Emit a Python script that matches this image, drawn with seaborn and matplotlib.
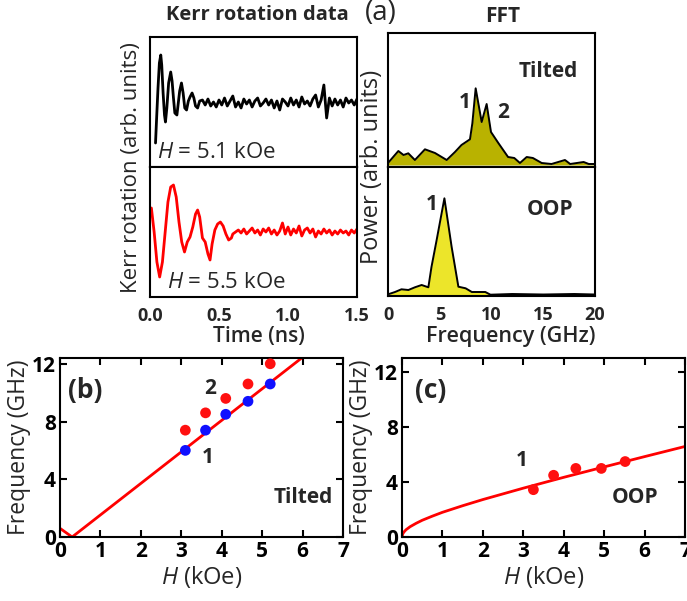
import numpy as np
import pandas as pd
import matplotlib
matplotlib.use("Agg")
import matplotlib.pyplot as plt
import seaborn as sns

# ---------------- data ----------------
# Kerr rotation, H = 5.1 kOe (tilted), arb. units
kerr_black_t = [0.040, 0.048, 0.058, 0.068, 0.078, 0.085, 0.095, 0.105, 0.112, 0.122,
                0.135, 0.150, 0.160, 0.170, 0.180, 0.195, 0.205, 0.215, 0.228, 0.240,
                0.252, 0.265, 0.278, 0.290, 0.305, 0.318, 0.330, 0.345, 0.360,
                0.38, 0.40, 0.42, 0.44, 0.46, 0.48, 0.50, 0.52, 0.54, 0.56,
                0.58, 0.60, 0.62, 0.64, 0.66, 0.68, 0.70, 0.72, 0.74, 0.76,
                0.78, 0.80, 0.82, 0.84, 0.86, 0.88, 0.90, 0.92, 0.94, 0.96,
                0.98, 1.00, 1.02, 1.04, 1.06, 1.08, 1.10, 1.12, 1.14, 1.16,
                1.18, 1.20, 1.22, 1.24, 1.26, 1.28, 1.30, 1.32, 1.34, 1.36,
                1.38, 1.40, 1.42, 1.44, 1.46, 1.48, 1.50]
kerr_black_v = [-40, -15, 15, 40, 48, 38, 10, -12, -19, -5,
                20, 31, 22, 5, -10, -12, 0, 12, 20, 10,
                -5, -7, 2, 6, 10, 5, -3, -5, 2,
                3, -2, 4, -3, 1, -4, 3, -2, 5, -3,
                2, 7, -4, 1, -5, 4, -1, 3, -4, 2,
                5, -3, 0, 4, -2, 3, -5, 2, -7, 4,
                1, -3, 5, -2, 3, -4, 6, -1, 2, -3,
                4, 8, -4, 3, 18, -15, 5, -3, 4, -2,
                3, -4, 5, 0, 3, -2, 4]

# Kerr rotation, H = 5.5 kOe (OOP), arb. units
kerr_red_t = [0.01, 0.03, 0.05, 0.07, 0.09, 0.11, 0.13, 0.15, 0.17, 0.19,
              0.21, 0.23, 0.25, 0.27, 0.29, 0.31, 0.33, 0.345, 0.36, 0.38,
              0.40, 0.42, 0.435, 0.45, 0.47, 0.49, 0.51, 0.53, 0.55, 0.57,
              0.59, 0.60,
              0.62, 0.64, 0.66, 0.68, 0.70, 0.72, 0.74, 0.76, 0.78, 0.80,
              0.82, 0.84, 0.86, 0.88, 0.90, 0.92, 0.94, 0.96, 0.98, 1.00,
              1.02, 1.04, 1.06, 1.08, 1.10, 1.12, 1.14, 1.16, 1.18, 1.20,
              1.22, 1.24, 1.26, 1.28, 1.30, 1.32, 1.34, 1.36, 1.38, 1.40,
              1.42, 1.44, 1.46, 1.48, 1.50]
kerr_red_v = [24, 0, -30, -45, -30, 0, 30, 45, 47, 35,
              10, -10, -20, -10, -5, 5, 18, 22, 15, -6,
              -10, -22, -28, -12, 2, 8, 10, 6, -2, -8,
              -6, -2,
              0, 2, -1, 3, -2, 1, 4, -1, 2, -3,
              3, 0, 4, -2, 2, -3, 1, 9, -2, 5,
              -3, 3, -1, 6, -4, 2, 4, -1, 3, -5,
              1, -2, 3, -1, 2, -3, 1, -2, 2, -1,
              1, -3, 2, -1, 3]

# FFT power spectra (arb. units)
fft_tilt_f = [0.0, 1.0, 1.5, 1.96, 2.6, 3.57, 4.54, 5.67, 6.47, 7.1, 7.92, 8.15, 8.47,
              9.05, 9.53, 9.95, 10.66, 11.6, 12.2, 12.75, 13.4, 14.0, 14.85, 15.8,
              17.1, 17.6, 18.9, 19.4, 20.0]
fft_tilt_p = [2, 14, 10, 11.7, 5, 15.7, 12, 5, 13, 20, 25.7, 41.7, 76.7,
              43, 61, 33, 22, 8, 7, 2, 8, 7, 2, 1,
              5, 1, 3, 1, 1]
fft_oop_f = [0.1, 0.68, 1.3, 1.97, 2.6, 3.25, 3.9, 4.2, 4.7, 5.45, 6.15, 6.8, 7.5,
             8.1, 9.4, 9.9, 12.0, 15.0, 18.0, 20.0]
fft_oop_p = [1, 3, 5.7, 5, 7.7, 10, 7.7, 28, 55, 96.7, 48, 8.3, 6.7,
             3, 3, 0.3, 1, 0.5, 1, 0.5]

# (b) tilted: measured modes and fit
tilt_H = [3.1, 3.6, 4.1, 4.65, 5.2]
tilt_mode2 = [7.4, 8.6, 9.6, 10.6, 12.0]
tilt_mode1 = [6.0, 7.4, 8.5, 9.4, 10.6]
tilt_fit_H = [0.0, 0.3, 6.0]
tilt_fit_f = [0.6, 0.0, 12.45]

# (c) OOP: measured mode and fit
oop_H = [3.25, 3.75, 4.3, 4.93, 5.52]
oop_f = [3.45, 4.5, 5.0, 5.0, 5.5]
oop_fit_H = [0.0, 0.02, 0.05, 0.1, 0.2, 0.35, 0.5, 0.75, 1.0, 1.5, 2.0, 3.0, 4.0, 5.0, 6.0, 7.0]
oop_fit_f = [0.0, 0.24, 0.37, 0.53, 0.75, 1.0, 1.22, 1.52, 1.8, 2.28, 2.73, 3.56, 4.35, 5.11, 5.86, 6.6]

time_ticks = [0.0, 0.5, 1.0, 1.5]
time_labels = ["0.0", "0.5", "1.0", "1.5"]
freq_ticks = [0, 5, 10, 15, 20]
H_ticks = [0, 1, 2, 3, 4, 5, 6, 7]
f_ticks = [0, 4, 8, 12]

# ---------------- style ----------------
sns.set_theme(style="ticks")
FONT = "Open Sans"
plt.rcParams["font.family"] = [FONT, "DejaVu Sans"]
plt.rcParams["mathtext.fontset"] = "custom"
plt.rcParams["mathtext.it"] = FONT + ":italic"
plt.rcParams["mathtext.rm"] = FONT
plt.rcParams["axes.linewidth"] = 1.5
plt.rcParams["axes.edgecolor"] = "black"

W, H = 687, 601
fig = plt.figure(figsize=(W / 100, H / 100), dpi=100)


def ax_px(x0, y0, x1, y1):
    return fig.add_axes([x0 / W, 1 - y1 / H, (x1 - x0) / W, (y1 - y0) / H])


def frame_only(ax):
    for s in ax.spines.values():
        s.set_visible(True)
        s.set_linewidth(1.5)
        s.set_color("black")
    ax.set_xlabel("")
    ax.set_ylabel("")


# ---- Kerr panels ----
ax_k1 = ax_px(150, 37, 357, 167)
ax_k2 = ax_px(150, 167, 357, 297)
df_k1 = pd.DataFrame({"t": kerr_black_t, "v": kerr_black_v})
df_k2 = pd.DataFrame({"t": kerr_red_t, "v": kerr_red_v})
sns.lineplot(data=df_k1, x="t", y="v", ax=ax_k1, color="black", lw=2.0,
             estimator=None, sort=False)
sns.lineplot(data=df_k2, x="t", y="v", ax=ax_k2, color="#ff0000", lw=2.0,
             estimator=None, sort=False)
ax_k1.set_xlim(0, 1.5)
ax_k1.set_ylim(-64, 66)
ax_k2.set_xlim(0, 1.5)
ax_k2.set_ylim(-65, 65)
for ax in (ax_k1, ax_k2):
    frame_only(ax)
    ax.set_yticks([])
    ax.tick_params(length=0)
ax_k1.set_xticks([])
ax_k2.set_xticks(time_ticks)
ax_k2.set_xticklabels(time_labels, fontsize=13, fontweight="bold")
ax_k2.tick_params(axis="x", pad=7)
ax_k1.text(0.035, 0.03, "$H$ = 5.1 kOe", transform=ax_k1.transAxes,
           fontsize=16, ha="left", va="bottom")
ax_k2.text(0.08, 0.03, "$H$ = 5.5 kOe", transform=ax_k2.transAxes,
           fontsize=16, ha="left", va="bottom")

# ---- FFT panels ----
ax_f1 = ax_px(388, 33, 595, 167)
ax_f2 = ax_px(388, 167, 595, 296)
ax_f1.fill_between(fft_tilt_f, fft_tilt_p, 0, color="#b9b200", lw=0)
ax_f2.fill_between(fft_oop_f, fft_oop_p, 0, color="#ece52a", lw=0)
sns.lineplot(x=fft_tilt_f, y=fft_tilt_p, ax=ax_f1, color="black", lw=1.4,
             estimator=None, sort=False)
sns.lineplot(x=fft_oop_f, y=fft_oop_p, ax=ax_f2, color="black", lw=1.4,
             estimator=None, sort=False)
ax_f1.set_xlim(0, 20)
ax_f1.set_ylim(-2, 132)
ax_f2.set_xlim(0, 20)
ax_f2.set_ylim(-1, 128)
for ax in (ax_f1, ax_f2):
    frame_only(ax)
    ax.set_yticks([])
    ax.tick_params(length=0)
ax_f1.set_xticks([])
ax_f2.set_xticks(freq_ticks)
ax_f2.set_xticklabels([str(v) for v in freq_ticks], fontsize=13, fontweight="bold")
ax_f2.tick_params(axis="x", pad=7)
ax_f1.text(0.918, 0.709, "Tilted", transform=ax_f1.transAxes, fontsize=15,
           fontweight="bold", ha="right", va="center")
ax_f1.text(7.44, 62, "1", fontsize=15, fontweight="bold", ha="center", va="center")
ax_f1.text(11.1, 52, "2", fontsize=15, fontweight="bold", ha="center", va="center")
ax_f2.text(0.894, 0.667, "OOP", transform=ax_f2.transAxes, fontsize=15,
           fontweight="bold", ha="right", va="center")
ax_f2.text(4.25, 90, "1", fontsize=15, fontweight="bold", ha="center", va="center")

# ---- (b) tilted dispersion ----
ax_b = ax_px(60, 358, 343, 537)
sns.lineplot(x=tilt_fit_H, y=tilt_fit_f, ax=ax_b, color="#ff0000", lw=2.0,
             estimator=None, sort=False)
sns.scatterplot(x=tilt_H, y=tilt_mode1, ax=ax_b, color="#1010ff", s=60,
                edgecolor="none", zorder=3)
sns.scatterplot(x=tilt_H, y=tilt_mode2, ax=ax_b, color="#ff1010", s=60,
                edgecolor="none", zorder=3)
ax_b.set_xlim(0, 7)
ax_b.set_ylim(0, 12.4)

# ---- (c) OOP dispersion ----
ax_c = ax_px(402, 358, 685, 537)
sns.lineplot(x=oop_fit_H, y=oop_fit_f, ax=ax_c, color="#ff0000", lw=2.0,
             estimator=None, sort=False)
sns.scatterplot(x=oop_H, y=oop_f, ax=ax_c, color="#ff1010", s=60,
                edgecolor="none", zorder=3)
ax_c.set_xlim(0, 7)
ax_c.set_ylim(0, 13.05)

for ax in (ax_b, ax_c):
    frame_only(ax)
    ax.set_xticks(H_ticks)
    ax.set_yticks(f_ticks)
    ax.set_xticklabels([str(v) for v in H_ticks], fontsize=15, fontweight="bold")
    ax.set_yticklabels([str(v) for v in f_ticks], fontsize=15, fontweight="bold")
    ax.tick_params(direction="in", length=5, width=1.5, top=True, right=True,
                   pad=3, colors="black")
    ax.set_xlabel("$H$ (kOe)", fontsize=17, labelpad=1)
    ax.set_ylabel("Frequency (GHz)", fontsize=16.5, labelpad=1)

ax_b.text(0.088, 0.82, "(b)", transform=ax_b.transAxes, fontsize=19,
          fontweight="bold", ha="center", va="center")
ax_b.text(3.71, 10.3, "2", fontsize=15, fontweight="bold", ha="center", va="center")
ax_b.text(3.66, 5.5, "1", fontsize=15, fontweight="bold", ha="center", va="center")
ax_b.text(0.965, 0.218, "Tilted", transform=ax_b.transAxes, fontsize=15,
          fontweight="bold", ha="right", va="center")
ax_c.text(0.10, 0.82, "(c)", transform=ax_c.transAxes, fontsize=19,
          fontweight="bold", ha="center", va="center")
ax_c.text(2.97, 5.55, "1", fontsize=15, fontweight="bold", ha="center", va="center")
ax_c.text(0.905, 0.218, "OOP", transform=ax_c.transAxes, fontsize=15,
          fontweight="bold", ha="right", va="center")

# ---- figure-level labels ----
fig.text(257 / W, 1 - 15 / H, "Kerr rotation data", fontsize=14.5, fontweight="bold",
         ha="center", va="center")
fig.text(503 / W, 1 - 17 / H, "FFT", fontsize=15, fontweight="bold",
         ha="center", va="center")
fig.text(381 / W, 1 - 13 / H, "(a)", fontsize=20, ha="center", va="center")
fig.text(131 / W, 1 - 168 / H, "Kerr rotation (arb. units)", fontsize=16,
         rotation=90, ha="center", va="center")
fig.text(372 / W, 1 - 167 / H, "Power (arb. units)", fontsize=17,
         rotation=90, ha="center", va="center")
fig.text(259 / W, 1 - 337 / H, "Time (ns)", fontsize=15, fontweight="semibold",
         ha="center", va="center")
fig.text(511 / W, 1 - 337 / H, "Frequency (GHz)", fontsize=15.5, fontweight="semibold",
         ha="center", va="center")

fig.savefig("out.png", dpi=100)
